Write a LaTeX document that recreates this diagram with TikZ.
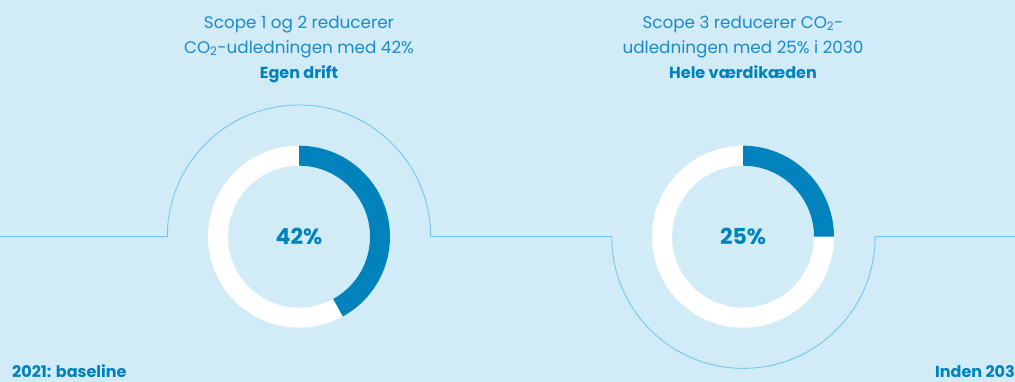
\documentclass[tikz,border=0pt]{standalone}
\usepackage{fontspec}
\setmainfont{Poppins}

\definecolor{bgblue}{HTML}{D1EBF7}
\definecolor{trackblue}{HTML}{74C8EC}
\definecolor{darkblue}{HTML}{0083BC}
\definecolor{textblue}{HTML}{1A8BCA}

\tikzset{
  track/.style={draw=trackblue, line width=0.9pt},
  title/.style={text=textblue, font=\fontsize{16.8}{20}\selectfont, anchor=base},
  heading/.style={text=darkblue, font=\fontsize{16}{20}\selectfont\bfseries, anchor=base},
  pct/.style={text=darkblue, font=\fontsize{22}{26}\selectfont\bfseries}
}

\begin{document}
\begin{tikzpicture}[x=1pt,y=1pt]

      \useasboundingbox (0,0) rectangle (1015,382);
      \fill[bgblue] (0,0) rectangle (1015,382);
      \clip (0,0) rectangle (1015,382);

      % line with the two half circles
      \draw[track] (0,145.3) -- (167.3,145.3)
        arc[start angle=180, end angle=0, radius=131.7] -- (611.7,145.3)
        arc[start angle=180, end angle=360, radius=131.7] -- (1015,145.3);

      % rings
      \foreach \cx/\pct/\name in {299/42/own, 743/25/chain}{
        \fill[white, even odd rule] (\cx,145.3) circle[radius=91] circle[radius=71];
        \fill[darkblue] (\cx,236.3) arc[start angle=90, end angle={90-3.6*\pct}, radius=91]
          -- ++({270-3.6*\pct}:20) arc[start angle={90-3.6*\pct}, end angle=90, radius=71] -- cycle;
        \node[pct] (\name) at (\cx,145.3) {\pct\%};
      }

      \begin{scope}
        \node[title] (own1) at (299,353.7) {Scope 1 og 2 reducerer};
        \node[title] (own2) at (299,328.7) {CO\textsubscript{2}-udledningen med 42\%};
        \node[heading] (own3) at (299,303) {Egen drift};

        \node[title] (chain1) at (743,353.7) {Scope 3 reducerer CO\textsubscript{2}-};
        \node[title] (chain2) at (743,328.7) {udledningen med 25\% i 2030};
        \node[heading] (chain3) at (743,303) {Hele værdikæden};

        \node[heading, anchor=base west, inner sep=0pt] (start) at (12,4) {2021: baseline};
        \node[heading, anchor=base west, inner sep=0pt] (goal) at (935,4) {Inden 2030};
      \end{scope}

    \end{tikzpicture}
\end{document}
